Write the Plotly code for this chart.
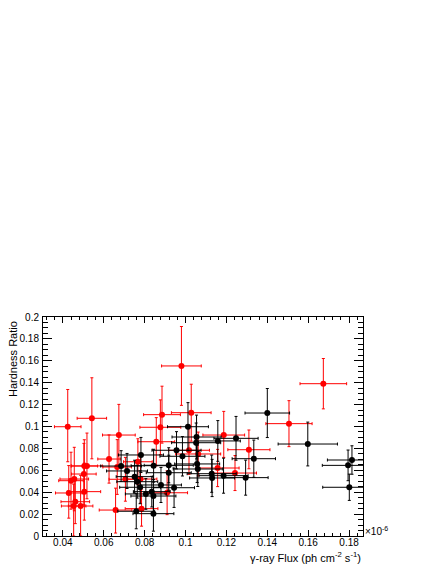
import plotly.graph_objects as go

# red sample: flux (x1e-6), hardness ratio and errors
red_x = [0.0424, 0.0542, 0.0626, 0.0674, 0.0505, 0.0518, 0.0503, 0.0456, 0.0440, 0.0429,
         0.0505, 0.0461, 0.0453, 0.0487, 0.0658, 0.0666, 0.0706, 0.0767, 0.0780, 0.0785,
         0.0857, 0.0877, 0.0885, 0.0980, 0.1028, 0.1017, 0.1062, 0.0910, 0.1157, 0.1187,
         0.1310, 0.1242, 0.1506, 0.1674]
red_y = [0.0998, 0.1075, 0.0703, 0.0922, 0.0639, 0.0640, 0.0566, 0.0520, 0.0505, 0.0393,
         0.0405, 0.0313, 0.0274, 0.0274, 0.0237, 0.0630, 0.0518, 0.0678, 0.0520, 0.0250,
         0.0861, 0.0993, 0.1108, 0.1553, 0.1126, 0.0783, 0.0749, 0.0395, 0.0621, 0.0922,
         0.0788, 0.0575, 0.1026, 0.1391]
red_ex = [0.0065, 0.0072, 0.0055, 0.0080, 0.0065, 0.0075, 0.0060, 0.0070, 0.0060, 0.0065,
          0.0080, 0.0070, 0.0060, 0.0060, 0.0080, 0.0070, 0.0080, 0.0070, 0.0080, 0.0080,
          0.0090, 0.0100, 0.0090, 0.0097, 0.0097, 0.0100, 0.0110, 0.0100, 0.0105, 0.0102,
          0.0103, 0.0105, 0.0113, 0.0114]
red_ey_lo = [0.032, 0.037, 0.022, 0.028, 0.024, 0.030, 0.028, 0.029, 0.026, 0.023,
             0.026, 0.020, 0.0274, 0.0274, 0.021, 0.025, 0.020, 0.021, 0.022, 0.016,
             0.022, 0.025, 0.026, 0.036, 0.026, 0.022, 0.020, 0.020, 0.017, 0.0204,
             0.0174, 0.016, 0.021, 0.023]
red_ey_hi = [0.034, 0.037, 0.022, 0.028, 0.024, 0.030, 0.028, 0.029, 0.026, 0.025,
             0.026, 0.020, 0.020, 0.028, 0.020, 0.025, 0.020, 0.021, 0.022, 0.018,
             0.022, 0.025, 0.026, 0.036, 0.026, 0.022, 0.020, 0.020, 0.017, 0.0216,
             0.018, 0.016, 0.021, 0.023]

# black sample
blk_x = [0.0685, 0.0714, 0.0751, 0.0764, 0.0782, 0.0778, 0.0759, 0.0806, 0.0835, 0.0843,
         0.0843, 0.0844, 0.0880, 0.0918, 0.0918, 0.0944, 0.0956, 0.0985, 0.1012, 0.1054,
         0.1052, 0.1057, 0.1060, 0.1128, 0.1130, 0.1158, 0.1186, 0.1247, 0.1294, 0.1334,
         0.1400, 0.1598, 0.1795, 0.1814, 0.1801]
blk_y = [0.0639, 0.0594, 0.0542, 0.0496, 0.0740, 0.0445, 0.0226, 0.0384, 0.0405, 0.0365,
         0.0204, 0.0642, 0.0466, 0.0646, 0.0578, 0.0441, 0.0783, 0.0728, 0.0998, 0.0904,
         0.0852, 0.0658, 0.0612, 0.0569, 0.0530, 0.0868, 0.0551, 0.0892, 0.0533, 0.0706,
         0.1123, 0.0840, 0.0645, 0.0694, 0.0445]
blk_ex = [0.0100, 0.0100, 0.0090, 0.0100, 0.0110, 0.0100, 0.0090, 0.0100, 0.0090, 0.0110,
          0.0100, 0.0110, 0.0100, 0.0120, 0.0110, 0.0100, 0.0120, 0.0110, 0.0100, 0.0120,
          0.0120, 0.0110, 0.0120, 0.0120, 0.0110, 0.0110, 0.0120, 0.0108, 0.0110, 0.0106,
          0.0109, 0.0145, 0.0126, 0.0120, 0.0130]
blk_ey = [0.014, 0.016, 0.015, 0.015, 0.016, 0.015, 0.016, 0.014, 0.014, 0.015,
          0.016, 0.015, 0.016, 0.016, 0.016, 0.018, 0.017, 0.018, 0.022, 0.020,
          0.018, 0.017, 0.016, 0.017, 0.017, 0.0186, 0.016, 0.020, 0.016, 0.017,
          0.0224, 0.020, 0.014, 0.013, 0.012]

FONT = "Liberation Sans, Arial, Helvetica, sans-serif"


def series(x, y, ex, ey_lo, ey_hi, color):
    return go.Scatter(
        x=x, y=y,
        mode="markers",
        marker=dict(symbol="circle", size=6, color=color, line=dict(width=0)),
        error_x=dict(type="data", array=ex, color=color, thickness=1, width=1.5),
        error_y=dict(type="data", array=ey_hi, arrayminus=ey_lo, color=color,
                     thickness=1, width=1.5),
        showlegend=False,
        hoverinfo="skip",
    )


fig = go.Figure()
fig.add_trace(series(red_x, red_y, red_ex, red_ey_lo, red_ey_hi, "#ff0000"))
fig.add_trace(series(blk_x, blk_y, blk_ex, blk_ey, blk_ey, "#000000"))

axis_common = dict(
    showline=True, linecolor="black", linewidth=1, mirror="ticks",
    ticks="inside", tickwidth=1, tickcolor="black",
    showgrid=False, zeroline=False,
    tickfont=dict(family=FONT, size=10, color="black"),
)

# page body adds an 8px offset, so the figure is a bit smaller than the window
fig.update_layout(
    width=428, height=556,
    margin=dict(l=32, r=73, t=309, b=28),
    paper_bgcolor="white", plot_bgcolor="white",
    font=dict(family=FONT, size=11, color="black"),
    xaxis=dict(range=[0.0303, 0.1868], tick0=0, dtick=0.02, ticklen=6,
               ticklabelstandoff=-3,
               minor=dict(ticks="inside", ticklen=3, tick0=0, dtick=0.004,
                          tickcolor="black", showgrid=False),
               **axis_common),
    yaxis=dict(range=[0, 0.2], tick0=0, dtick=0.02, ticklen=9,
               ticklabelstandoff=1,
               minor=dict(ticks="inside", ticklen=5, tick0=0, dtick=0.005,
                          tickcolor="black", showgrid=False),
               **axis_common),
    annotations=[
        dict(text="Hardness Ratio", textangle=-90, xref="paper", yref="paper",
             x=0, y=1, xanchor="center", yanchor="top", xshift=-30, yshift=-2,
             showarrow=False, font=dict(family=FONT, size=11)),
        dict(text="\u03b3-ray Flux (ph cm<sup>-2</sup> s<sup>-1</sup>)",
             xref="paper", yref="paper", x=1, y=0, xanchor="right",
             yanchor="middle", yshift=-21, showarrow=False,
             font=dict(family=FONT, size=11)),
        dict(text="\u00d710<sup>-6</sup>", xref="paper", yref="paper",
             x=1, y=0, xanchor="left", yanchor="middle", xshift=0, yshift=5,
             showarrow=False, font=dict(family=FONT, size=10)),
    ],
)

fig.write_html("out.html")
